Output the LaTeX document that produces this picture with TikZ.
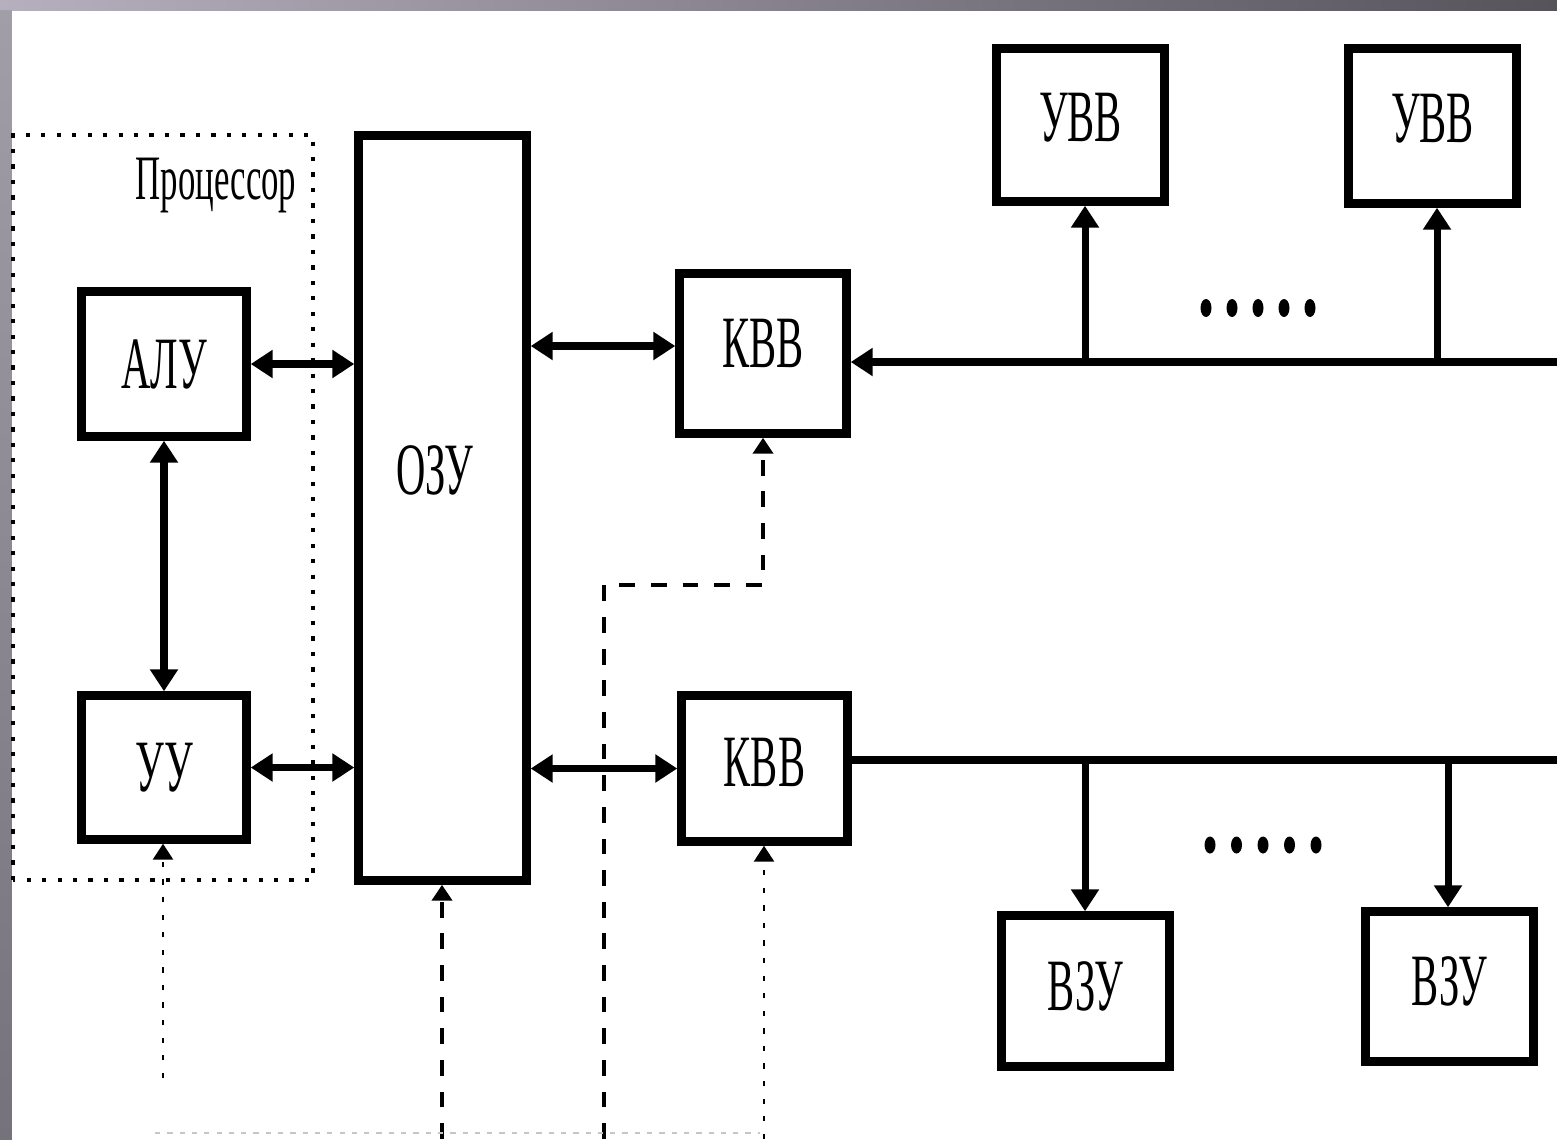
\documentclass[tikz,border=0pt]{standalone}
\usepackage{fontspec}
\setmainfont{Liberation Serif}
\usepackage{graphicx}
\usepackage{tikz}
\usetikzlibrary{arrows.meta,positioning,calc}

\definecolor{rimA}{HTML}{B6B0BE}
\definecolor{rimB}{HTML}{56535B}
\definecolor{rimC}{HTML}{A29EA8}
\definecolor{rimD}{HTML}{76727B}

% narrow (condensed) lettering as in the scan
\newcommand{\nar}[1]{\scalebox{0.55}[1]{#1}}

\begin{document}
\begin{tikzpicture}[
    font=\fontsize{21}{24}\selectfont,
    box/.style={draw, line width=2.4pt, inner sep=0pt},
    lift/.style={text depth=#1},
    arr/.style={-{Triangle[length=0.22cm,width=0.27cm]}, line width=2pt},
    biarr/.style={{Triangle[length=0.22cm,width=0.27cm]}-{Triangle[length=0.22cm,width=0.27cm]},
      line width=2pt},
    bus/.style={line width=2.3pt},
    ctl/.style={-{Triangle[length=0.16cm,width=0.2cm]}, line width=1.4pt,
      dash pattern=on 4.5pt off 4.5pt},
    thinctl/.style={-{Triangle[length=0.16cm,width=0.2cm]}, line width=0.8pt,
      dash pattern=on 1.5pt off 3.5pt},
    proc/.style={draw, line width=1pt, dash pattern=on 1.2pt off 3.2pt},
  ]
    \useasboundingbox (0,0) rectangle (15.57,11.39);
    \fill[white] (0,0) rectangle (15.57,11.39);
    % --- scan frame ---
    \shade[left color=rimA, right color=rimB] (0,11.29) rectangle (15.57,11.39);
    \shade[top color=rimC, bottom color=rimD] (0,0) rectangle (0.12,11.29);

    % --- processor ---
    \draw[proc] (0.13,2.59) rectangle (3.13,10.04);
    \node (proc-lbl) at (2.16,9.53) {\fontsize{18}{20}\selectfont\nar{Процессор}};
    \node[box, minimum width=1.65cm, minimum height=1.45cm] (alu) at (1.64,7.75) {\nar{АЛУ}};
    \node[box, minimum width=1.65cm, minimum height=1.44cm] (uu) at (1.64,3.715) {\nar{УУ}};

    % --- memory ---
    \node[box, minimum width=1.68cm, minimum height=7.45cm] (ozu) at (4.425,6.31) {};
    \node (ozu-lbl) at (4.35,6.69) {\nar{ОЗУ}};

    % --- channels ---
    \node[box, lift=0.2cm, minimum width=1.67cm, minimum height=1.60cm] (kvv1) at (7.63,7.855) {\nar{КВВ}};
    \node[box, lift=0.12cm, minimum width=1.66cm, minimum height=1.46cm] (kvv2) at (7.645,3.705) {\nar{КВВ}};

    % --- devices ---
    \node[box, lift=0.16cm, minimum width=1.68cm, minimum height=1.53cm] (uvv1) at (10.805,10.14) {\nar{УВВ}};
    \node[box, lift=0.16cm, minimum width=1.68cm, minimum height=1.55cm] (uvv2) at (14.325,10.13) {\nar{УВВ}};
    \node[box, lift=0.1cm, minimum width=1.68cm, minimum height=1.51cm] (vzu1) at (10.855,1.48) {\nar{ВЗУ}};
    \node[box, lift=0.1cm, minimum width=1.68cm, minimum height=1.50cm] (vzu2) at (14.495,1.525) {\nar{ВЗУ}};

    % --- data links ---
    \draw[biarr] (alu.east) -- (alu.east -| ozu.west);
    \draw[biarr] (uu.east) -- (uu.east -| ozu.west);
    \draw[biarr] (alu.south) -- (uu.north);
    \draw[biarr] (ozu.east |- 0,7.93) -- (kvv1.west |- 0,7.93);
    \draw[biarr] (ozu.east |- kvv2.west) -- (kvv2.west);

    % --- top bus ---
    \coordinate (busA) at (15.57,7.77);
    \coordinate (ja) at (10.85,7.77);
    \coordinate (jb) at (14.37,7.77);
    \draw[arr, line width=2.3pt] (busA) -- (busA -| kvv1.east);
    \draw[arr] (ja) -- (ja |- uvv1.south);
    \draw[arr] (jb) -- (jb |- uvv2.south);
    \foreach \i in {0,...,4}
      \fill (12.06+0.26*\i,8.31) ellipse (0.055 and 0.09);

    % --- bottom bus ---
    \coordinate (busB) at (15.57,3.79);
    \coordinate (jc) at (10.85,3.79);
    \coordinate (jd) at (14.48,3.79);
    \draw[bus] (kvv2.east |- busB) -- (busB);
    \draw[arr] (jc) -- (jc |- vzu1.north);
    \draw[arr] (jd) -- (jd |- vzu2.north);
    \foreach \i in {0,...,4}
      \fill (12.10+0.265*\i,2.94) ellipse (0.055 and 0.085);

    % --- control lines ---
    \coordinate (cu) at (1.63,0.61);
    \coordinate (co) at (4.42,0);
    \coordinate (ck) at (6.04,0);
    \coordinate (ct) at (6.04,5.54);
    \coordinate (cb) at (7.64,0);
    \draw[thinctl] (cu) -- (cu |- uu.south);
    \draw[ctl] (co) -- (co |- ozu.south);
    \draw[ctl] (ck) |- (kvv1.south |- ct) -- (kvv1.south);
    \draw[thinctl] (cb) -- (cb |- kvv2.south);
    \coordinate (fa) at (1.55,0.06);
    \coordinate (fb) at (7.60,0.06);
    \draw[gray!45, line width=0.6pt, dash pattern=on 1.5pt off 2pt] (fa) -- (fb);
  \end{tikzpicture}
\end{document}
